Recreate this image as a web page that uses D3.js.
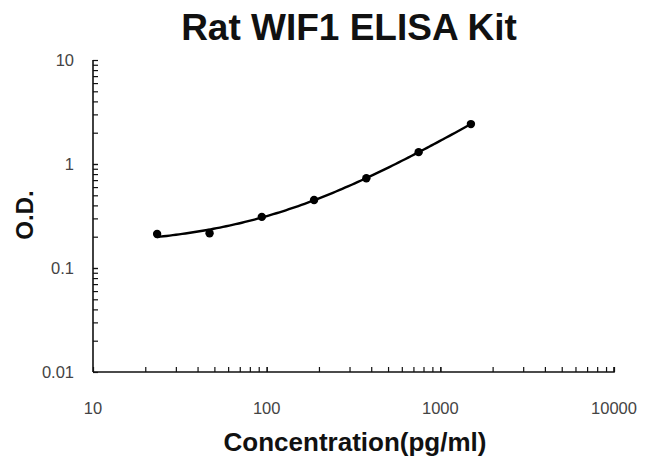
<!DOCTYPE html>
<html><head><meta charset="utf-8">
<script src="https://cdn.jsdelivr.net/npm/d3@7"></script>
<style>body{margin:0;background:#fff}svg{display:block}</style>
</head><body>
<script>
const concentrations = [23.4, 46.9, 93.75, 187.5, 375, 750, 1500];
const odValues = [0.212, 0.216, 0.31, 0.45, 0.73, 1.30, 2.42];
const xTickValues = [10, 100, 1000, 10000];
const yTickValues = [0.01, 0.1, 1, 10];
const titleText = "Rat WIF1 ELISA Kit";
const xLabel = "Concentration(pg/ml)";
const yLabel = "O.D.";

const W = 645, H = 466;
const svg = d3.select("body").append("svg").attr("width", W).attr("height", H);
const x = d3.scaleLog().domain([10, 10000]).range([93, 614]);
const y = d3.scaleLog().domain([0.01, 10]).range([372, 60]);

// minor ticks
function minors(lo, hi) {
  const out = [];
  for (let d = lo; d < hi; d *= 10) for (let k = 1; k <= 10; k++) out.push(d * k);
  return out;
}
const xMinor = minors(10, 10000);
const yMinor = minors(0.01, 10);

const xAxis = d3.axisBottom(x).tickValues(xMinor).tickSize(-5).tickFormat("");
const yAxis = d3.axisLeft(y).tickValues(yMinor).tickSize(-5).tickFormat("");
const gx = svg.append("g").attr("transform", `translate(0,${y.range()[0]})`).call(xAxis);
const gy = svg.append("g").attr("transform", `translate(${x.range()[0]},0)`).call(yAxis);
[gx, gy].forEach(g => {
  g.select(".domain").attr("stroke", "#111").attr("stroke-width", 1.6);
  g.selectAll(".tick line").attr("stroke", "#111").attr("stroke-width", 1.2);
});
gx.select(".domain").attr("d", `M${x.range()[0]},0H${x.range()[1]}V-5`);
gy.select(".domain").attr("d", `M0,${y.range()[0]}V${y.range()[1]}`);

// tick labels
svg.append("g").selectAll("text").data(xTickValues).join("text")
  .attr("x", d => x(d)).attr("y", 414)
  .attr("text-anchor", "middle")
  .attr("font-family", "Liberation Sans, Arial, sans-serif").attr("font-size", 16.5)
  .attr("fill", "#444").text(d => d);
svg.append("g").selectAll("text").data(yTickValues).join("text")
  .attr("x", 74).attr("y", d => y(d) + 5.5)
  .attr("text-anchor", "end")
  .attr("font-family", "Liberation Sans, Arial, sans-serif").attr("font-size", 16.5)
  .attr("fill", "#444").text(d => d);

// quadratic least-squares trendline (linear space), drawn on log axes
function polyfit2(xs, ys) {
  let S = [[0,0,0],[0,0,0],[0,0,0]], b = [0,0,0];
  xs.forEach((xv, i) => {
    const p = [1, xv, xv*xv];
    for (let r = 0; r < 3; r++) { b[r] += p[r]*ys[i]; for (let c = 0; c < 3; c++) S[r][c] += p[r]*p[c]; }
  });
  const A = S.map((row, i) => [...row, b[i]]);
  for (let i = 0; i < 3; i++) {
    for (let k = i+1; k < 3; k++) {
      const f = A[k][i]/A[i][i];
      for (let j = i; j < 4; j++) A[k][j] -= f*A[i][j];
    }
  }
  const c = [0,0,0];
  for (let i = 2; i >= 0; i--) {
    let s = A[i][3];
    for (let j = i+1; j < 3; j++) s -= A[i][j]*c[j];
    c[i] = s/A[i][i];
  }
  return c;
}
const coef = polyfit2(concentrations, odValues);
const lo = Math.log10(concentrations[0]), hi = Math.log10(concentrations[concentrations.length-1]);
const curve = d3.range(0, 101).map(i => {
  const cx = Math.pow(10, lo + (hi - lo) * i / 100);
  return [cx, coef[0] + coef[1]*cx + coef[2]*cx*cx];
});
svg.append("path").datum(curve)
  .attr("fill", "none").attr("stroke", "#000").attr("stroke-width", 2.4)
  .attr("d", d3.line().x(d => x(d[0])).y(d => y(d[1])).curve(d3.curveBasis));

svg.append("g").selectAll("circle").data(concentrations).join("circle")
  .attr("cx", d => x(d)).attr("cy", (d, i) => y(odValues[i])).attr("r", 4.2).attr("fill", "#000");

// titles
svg.append("text").attr("x", 349).attr("y", 40).attr("text-anchor", "middle")
  .attr("font-family", "Liberation Sans, Arial, sans-serif").attr("font-weight", "bold")
  .attr("font-size", 37).attr("fill", "#111").text(titleText);
svg.append("text").attr("x", 355).attr("y", 451).attr("text-anchor", "middle")
  .attr("font-family", "Liberation Sans, Arial, sans-serif").attr("font-weight", "bold")
  .attr("font-size", 26).attr("fill", "#111").text(xLabel);
svg.append("text").attr("transform", "translate(33,215) rotate(-90)").attr("text-anchor", "middle")
  .attr("font-family", "Liberation Sans, Arial, sans-serif").attr("font-weight", "bold")
  .attr("font-size", 24).attr("fill", "#111").text(yLabel);
</script>
</body></html>
